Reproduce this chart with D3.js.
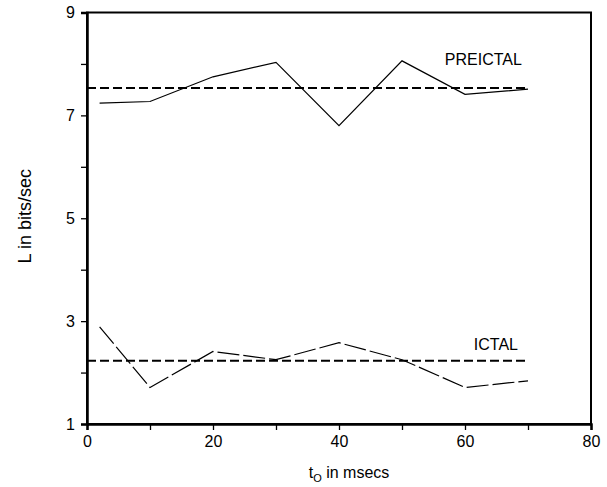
<!DOCTYPE html>
<html>
<head>
<meta charset="utf-8">
<script src="https://cdn.jsdelivr.net/npm/d3@7"></script>
<style>
body { margin: 0; background: #fff; }
text { font-family: "Liberation Sans", Arial, sans-serif; fill: #000; }
</style>
</head>
<body>
<svg width="607" height="487"></svg>
<script>
var t = [2, 10, 20, 30, 40, 50, 60, 70];
var preictal = [7.24, 7.27, 7.75, 8.03, 6.8, 8.06, 7.41, 7.51];
var ictal = [2.89, 1.71, 2.41, 2.25, 2.58, 2.25, 1.71, 1.84];
var preictalMean = 7.53;
var ictalMean = 2.23;
var xTicks = [0, 10, 20, 30, 40, 50, 60, 70, 80];
var xLabels = [0, 20, 40, 60, 80];
var yTicks = [1, 2, 3, 4, 5, 6, 7, 8, 9];
var yLabels = [1, 3, 5, 7, 9];

var svg = d3.select("svg");
var mLeft = 87, mRight = 591, mTop = 12.5, mBottom = 424;

var x = d3.scaleLinear().domain([0, 80]).range([mLeft, mRight]);
var y = d3.scaleLinear().domain([1, 9]).range([mBottom, mTop]);

// frame
svg.append("rect")
  .attr("x", mLeft).attr("y", mTop)
  .attr("width", mRight - mLeft).attr("height", mBottom - mTop)
  .attr("fill", "none").attr("stroke", "#000").attr("stroke-width", 2);

var xAxis = svg.append("g")
  .attr("transform", "translate(0," + mBottom + ")")
  .call(d3.axisBottom(x).tickValues(xTicks).tickSize(6)
    .tickFormat(function(d) { return xLabels.indexOf(d) >= 0 ? d : ""; }));
xAxis.select(".domain").attr("stroke-width", 2.5);
xAxis.selectAll(".tick line").attr("stroke-width", 1.3);
xAxis.selectAll(".tick text").attr("font-size", 16).attr("dy", "0.9em")
  .attr("font-family", "Liberation Sans, Arial, sans-serif");

var yAxis = svg.append("g")
  .attr("transform", "translate(" + mLeft + ",0)")
  .call(d3.axisLeft(y).tickValues(yTicks).tickSize(6)
    .tickFormat(function(d) { return yLabels.indexOf(d) >= 0 ? d : ""; }));
yAxis.select(".domain").attr("stroke-width", 2.5);
yAxis.selectAll(".tick line").attr("stroke-width", 1.3);
yAxis.selectAll(".tick text").attr("font-size", 16).attr("x", -12)
  .attr("font-family", "Liberation Sans, Arial, sans-serif");

var line = d3.line()
  .x(function(d) { return x(d[0]); })
  .y(function(d) { return y(d[1]); });

svg.append("path")
  .datum(d3.zip(t, preictal))
  .attr("d", line)
  .attr("fill", "none").attr("stroke", "#000").attr("stroke-width", 1.2);

svg.append("path")
  .datum(d3.zip(t, ictal))
  .attr("d", line)
  .attr("fill", "none").attr("stroke", "#000").attr("stroke-width", 1.2)
  .attr("stroke-dasharray", "22,4");

[preictalMean, ictalMean].forEach(function(m) {
  svg.append("path")
    .datum([[0, m], [70, m]])
    .attr("d", line)
    .attr("fill", "none").attr("stroke", "#000").attr("stroke-width", 2)
    .attr("stroke-dasharray", "9,4");
});

svg.append("text")
  .attr("x", x(56.8)).attr("y", 65)
  .attr("font-size", 16)
  .text("PREICTAL");

svg.append("text")
  .attr("x", x(61.4)).attr("y", 350)
  .attr("font-size", 16)
  .text("ICTAL");

var xt = svg.append("text")
  .attr("x", (mLeft + mRight) / 2 + 10).attr("y", 478)
  .attr("text-anchor", "middle")
  .attr("font-size", 16);
xt.append("tspan").text("t");
xt.append("tspan").attr("font-size", 11).attr("dy", 4).text("O");
xt.append("tspan").attr("dy", -4).text(" in msecs");

svg.append("text")
  .attr("transform", "translate(31," + ((mTop + mBottom) / 2 - 2) + ") rotate(-90)")
  .attr("text-anchor", "middle")
  .attr("font-size", 18)
  .text("L in bits/sec");
</script>
</body>
</html>
